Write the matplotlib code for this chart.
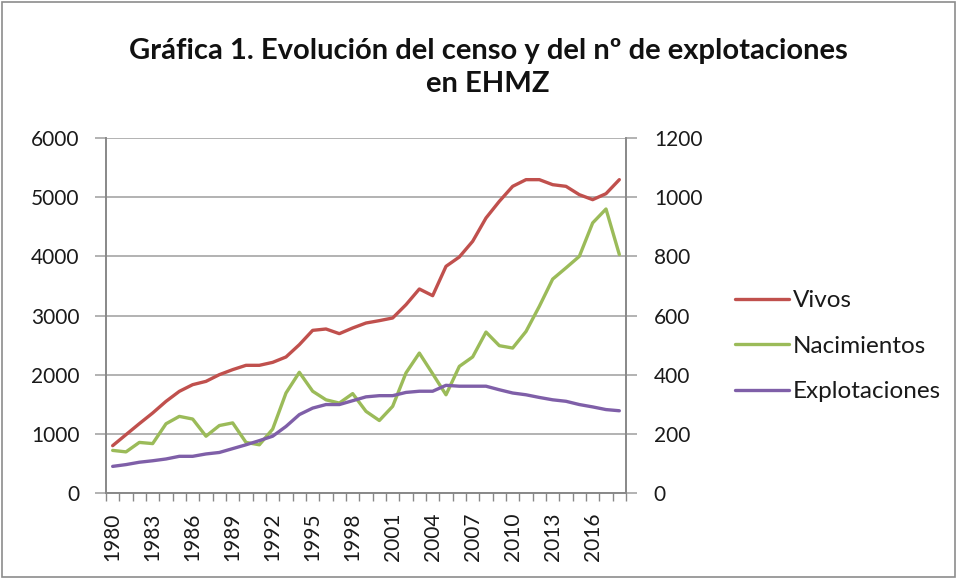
import numpy as np
import matplotlib
matplotlib.use('Agg')
import matplotlib.pyplot as plt
import matplotlib.patches as patches
from matplotlib.ticker import MultipleLocator

plt.rcParams['font.family'] = ['Lato', 'DejaVu Sans']

years = list(range(1980, 2019))

vivos = [800, 986, 1172, 1352, 1549, 1718, 1831, 1887, 2000, 2085,
         2158, 2158, 2208, 2299, 2507, 2749, 2772, 2693, 2789, 2873,
         2913, 2958, 3183, 3448, 3335, 3831, 3989, 4254, 4648, 4930,
         5183, 5296, 5296, 5211, 5183, 5042, 4958, 5059, 5296]

nacimientos = [144, 139, 171, 167, 234, 259, 250, 192, 228, 237,
               171, 163, 216, 338, 408, 344, 315, 304, 336, 276,
               245, 293, 406, 473, 403, 332, 428, 460, 544, 498,
               490, 546, 631, 723, 761, 800, 913, 960, 806]

explotaciones = [90, 96, 104, 109, 115, 124, 124, 132, 137, 150,
                 163, 177, 192, 225, 265, 287, 299, 299, 312, 325,
                 329, 329, 340, 344, 344, 364, 361, 361, 361, 349,
                 338, 332, 323, 315, 310, 299, 291, 282, 278]

RED = '#C0504D'
GREEN = '#9BBB59'
PURPLE = '#7F5FA8'
AXCOL = '#888888'
GRIDCOL = '#A6A6A6'
TXT = '#1a1a1a'

fig = plt.figure(figsize=(9.57, 5.78), dpi=100)
ax = fig.add_axes([106/957, 1-493/578, 520/957, 355/578])
ax2 = ax.twinx()

x = np.arange(len(years))
l1, = ax.plot(x, vivos, color=RED, lw=2.4, label='Vivos', solid_capstyle='round')
l2, = ax2.plot(x, nacimientos, color=GREEN, lw=2.4, label='Nacimientos', solid_capstyle='round')
l3, = ax2.plot(x, explotaciones, color=PURPLE, lw=2.4, label='Explotaciones', solid_capstyle='round')

ax.set_ylim(0, 6000)
ax2.set_ylim(0, 1200)
ax.set_yticks(range(0, 6001, 1000))
ax2.set_yticks(range(0, 1201, 200))
ax.set_xlim(-0.5, len(years) - 0.5)

# category axis: labels every 3 years, tick marks between categories
ax.set_xticks(x[::3])
ax.set_xticklabels([str(y) for y in years[::3]], rotation=90)
ax.xaxis.set_minor_locator(MultipleLocator(1, offset=0.5))
ax.tick_params(axis='x', which='major', length=0, pad=14, labelsize=15, colors=TXT)
ax.tick_params(axis='x', which='minor', length=6, width=1, color=AXCOL, direction='out')

ax.grid(axis='y', color=GRIDCOL, lw=1.2)
ax.set_axisbelow(True)
ax.tick_params(axis='y', length=8, width=1.2, color=GRIDCOL, labelsize=15, labelcolor=TXT, pad=11)
ax2.tick_params(axis='y', length=8, width=1.2, color=GRIDCOL, labelsize=15, labelcolor=TXT, pad=12)

for a in (ax, ax2):
    a.spines['top'].set_visible(False)
    for s in ('left', 'right', 'bottom'):
        a.spines[s].set_color(AXCOL)
        a.spines[s].set_linewidth(1.2)

fig.text(0.51, 0.883, 'Gráfica 1. Evolución del censo y del nº de explotaciones\nen EHMZ',
         ha='center', va='center', fontsize=21, fontweight='bold', color='#111111',
         linespacing=1.3)

leg = fig.legend(handles=[l1, l2, l3], loc='center left', bbox_to_anchor=(0.758, 0.401),
                 frameon=False, fontsize=17.5, handlelength=2.2, handletextpad=0.16,
                 labelspacing=1.0, borderaxespad=0)
for t in leg.get_texts():
    t.set_color(TXT)

fig.patches.append(patches.Rectangle((0.002, 0.002), 0.996, 0.994, transform=fig.transFigure,
                                     fill=False, edgecolor='#8C8C8C', lw=1.2))

fig.savefig('out.png', dpi=100)
